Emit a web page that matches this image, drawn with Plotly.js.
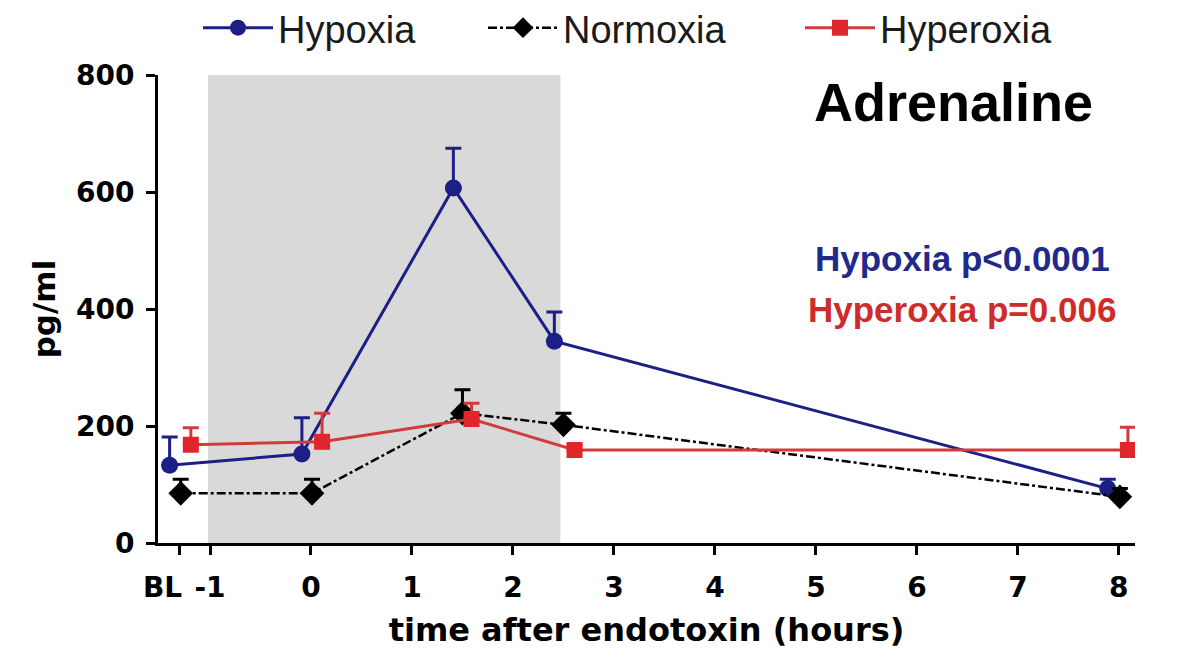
<!DOCTYPE html>
<html>
<head>
<meta charset="utf-8">
<script src="https://cdn.plot.ly/plotly-3.0.1.min.js"></script>
<style>html,body{margin:0;padding:0;background:#fff;}#chart{width:1200px;height:672px;}</style>
</head>
<body>
<div id="chart"></div>
<script>
// Data (hours after endotoxin; BL = baseline)
const hypoxiaX   = [-1.40, -0.09, 1.41, 2.41, 7.89];
const hypoxiaY   = [133, 152, 607, 345, 93];
const hypoxiaErr = [48, 62, 68, 50, 16];

const normoxiaX   = [-1.29, 0.01, 1.50, 2.50, 8.01];
const normoxiaY   = [85, 85, 222, 202, 79];
const normoxiaErr = [24, 24, 40, 20, 14];

const hyperoxiaX   = [-1.19, 0.11, 1.59, 2.61, 8.09];
const hyperoxiaY   = [168, 173, 212, 159, 159];
const hyperoxiaErr = [29, 49, 27, 8, 39];

const xTickVals = [-1.3, -1, 0, 1, 2, 3, 4, 5, 6, 7, 8];
const xTickText = ['', '-1', '0', '1', '2', '3', '4', '5', '6', '7', '8'];
const yTickVals = [0, 200, 400, 600, 800];
const hypoxiaPeriod = [-1.02, 2.47];

const zeros = a => a.map(() => 0);

const blue = '#1c1f86';
const red = '#e0262b';
const redLine = '#d23b3b';

const traces = [
  {
    x: hypoxiaX, y: hypoxiaY, name: 'Hypoxia', type: 'scatter', mode: 'lines+markers',
    line: {color: blue, width: 3},
    marker: {symbol: 'circle', size: 17, color: blue},
    error_y: {type: 'data', symmetric: false, array: hypoxiaErr, arrayminus: zeros(hypoxiaErr), color: blue, thickness: 3, width: 8},
    legend: 'legend'
  },
  {
    x: normoxiaX, y: normoxiaY, name: 'Normoxia', type: 'scatter', mode: 'lines+markers',
    line: {color: '#000', width: 2.5, dash: 'dashdot'},
    marker: {symbol: 'diamond', size: 19, color: '#000'},
    error_y: {type: 'data', symmetric: false, array: normoxiaErr, arrayminus: zeros(normoxiaErr), color: '#000', thickness: 3, width: 8},
    legend: 'legend2'
  },
  {
    x: hyperoxiaX, y: hyperoxiaY, name: 'Hyperoxia', type: 'scatter', mode: 'lines+markers',
    line: {color: redLine, width: 3},
    marker: {symbol: 'square', size: 16, color: red},
    error_y: {type: 'data', symmetric: false, array: hyperoxiaErr, arrayminus: zeros(hyperoxiaErr), color: redLine, thickness: 3, width: 8},
    legend: 'legend3'
  }
];

const legendFont = {family: 'Liberation Sans, Arial, sans-serif', size: 38, color: '#1a1a1a'};
const legendBase = {orientation: 'h', xref: 'container', yref: 'container', yanchor: 'middle', y: 1 - 28/672,
  font: legendFont, bgcolor: 'rgba(0,0,0,0)', borderwidth: 0, itemwidth: 70};

const tickFont = {family: 'DejaVu Sans, sans-serif', size: 28, color: '#000'};

const layout = {
  width: 1200, height: 672,
  margin: {l: 158, r: 65, t: 75, b: 129},
  paper_bgcolor: '#fff', plot_bgcolor: '#fff',
  showlegend: true,
  legend:  Object.assign({}, legendBase, {x: 198/1200}),
  legend2: Object.assign({}, legendBase, {x: 483/1200}),
  legend3: Object.assign({}, legendBase, {x: 800/1200}),
  xaxis: {
    range: [-1.515, 8.16], tickmode: 'array', tickvals: xTickVals, ticktext: xTickText.map(t => t ? '<b>' + t + '</b>' : ''),
    showgrid: false, zeroline: false, showline: true, linecolor: '#000', linewidth: 3,
    ticks: 'outside', ticklen: 9, tickwidth: 3, tickcolor: '#000', ticklabelstandoff: 8,
    tickfont: tickFont,
    title: {text: '<b>time after endotoxin (hours)</b>', font: {family: 'DejaVu Sans, sans-serif', size: 32, color: '#000'}, standoff: 17}
  },
  yaxis: {
    range: [0, 800], tickmode: 'array', tickvals: yTickVals, ticktext: yTickVals.map(v => '<b>' + v + '</b>'),
    showgrid: false, zeroline: false, showline: true, linecolor: '#000', linewidth: 3,
    ticks: 'outside', ticklen: 9, tickwidth: 3, tickcolor: '#000', ticklabelstandoff: 6,
    tickfont: tickFont,
    title: {text: '<b>pg/ml</b>', font: {family: 'DejaVu Sans, sans-serif', size: 31, color: '#000'}, standoff: 12}
  },
  shapes: [
    {type: 'rect', xref: 'x', yref: 'y', x0: hypoxiaPeriod[0], x1: hypoxiaPeriod[1], y0: 0, y1: 800,
     fillcolor: '#d9d9d9', line: {width: 0}, layer: 'below'}
  ],
  annotations: [
    {text: '<b>BL</b>', xref: 'x', yref: 'paper', x: -1.475, y: 0, yshift: -44, xanchor: 'center', yanchor: 'middle', showarrow: false,
     font: tickFont},
    {text: '<b>Adrenaline</b>', xref: 'paper', yref: 'paper', x: 0.814, y: (543-102)/468, xanchor: 'center', yanchor: 'middle', showarrow: false,
     font: {family: 'Liberation Sans, Arial, sans-serif', size: 54, color: '#000'}},
    {text: '<b>Hypoxia p<0.0001</b>', xref: 'paper', yref: 'paper', x: 0.823, y: (543-258)/468, xanchor: 'center', yanchor: 'middle', showarrow: false,
     font: {family: 'Liberation Sans, Arial, sans-serif', size: 35, color: '#1f2a8c'}},
    {text: '<b>Hyperoxia p=0.006</b>', xref: 'paper', yref: 'paper', x: 0.823, y: (543-309)/468, xanchor: 'center', yanchor: 'middle', showarrow: false,
     font: {family: 'Liberation Sans, Arial, sans-serif', size: 35, color: '#cf2b2b'}}
  ]
};

Plotly.newPlot('chart', traces, layout, {displayModeBar: false, staticPlot: true});
</script>
</body>
</html>
